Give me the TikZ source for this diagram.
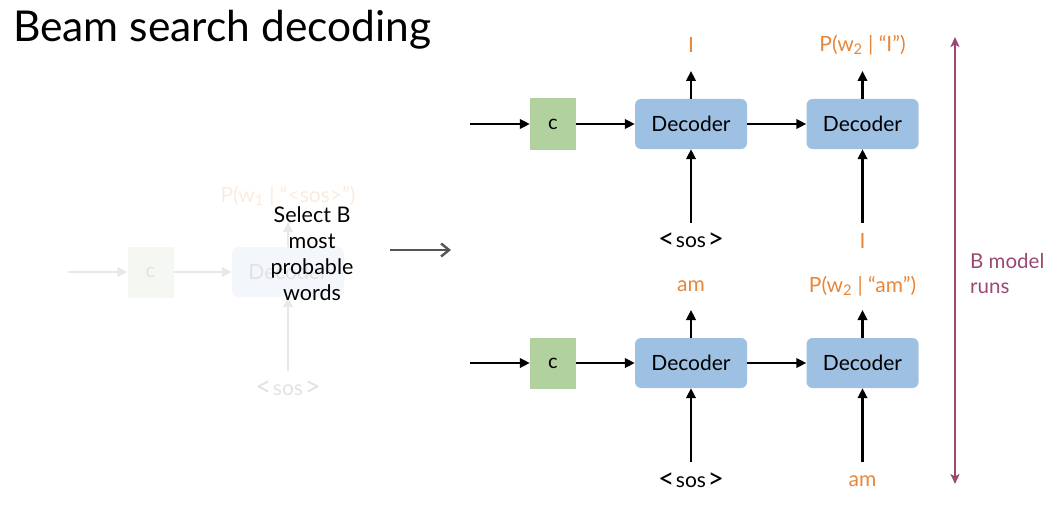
\documentclass[tikz,border=0pt]{standalone}
\usepackage{fontspec}
\setmainfont{Lato}
\usetikzlibrary{arrows.meta}
\definecolor{decblue}{HTML}{9DC0E3}
\definecolor{cgreen}{HTML}{B1D29E}
\definecolor{orng}{HTML}{E8863A}
\definecolor{mag}{HTML}{9A4872}
\definecolor{fadeline}{HTML}{E8E8E8}
\definecolor{fadetext}{HTML}{E2E2E2}
\definecolor{fadegreen}{HTML}{F5F8F2}
\definecolor{fadeblue}{HTML}{F3F7FB}
\definecolor{fadeorng}{HTML}{FCEBDD}
\definecolor{darkarr}{HTML}{555555}
\newcommand{\bigbr}[1]{\raisebox{-1.2pt}{\scalebox{1.35}{#1}}}
\newcommand{\sostext}{\bigbr{<}\kern1.5pt sos\kern1.5pt\bigbr{>}}
\begin{document}
\begin{tikzpicture}[x=1pt,y=-1pt,
  arr/.style={line width=2.3pt, -{Triangle[length=10pt,width=9.5pt]}},
  farr/.style={arr, draw=fadeline, color=fadeline},
  dec/.style={rounded corners=6pt, fill=decblue, minimum width=112pt, minimum height=50pt, inner sep=0pt, font=\fontsize{21}{25}\selectfont},
  cbox/.style={fill=cgreen, minimum width=46pt, minimum height=51pt, inner sep=0pt, font=\fontsize{20}{24}\selectfont},
  lbl/.style={font=\fontsize{21}{25}\selectfont, inner sep=0pt},
  olbl/.style={lbl, text=orng}]
\useasboundingbox (0,0) rectangle (1059,516);

% title
\node[anchor=base west, font=\fontsize{42.5}{50}\selectfont, inner sep=0pt] (title) at (13,42) {Beam search decoding};

% faded left part
\node[cbox, fill=fadegreen, text=fadetext] (fc) at (150.5,272) {c};
\node[dec, fill=fadeblue, text=fadetext] (fd) at (288,272) {Decoder};
\coordinate (fin) at (68,272);
\draw[farr] (fin) -- (fc);
\draw[farr] (fc) -- (fd);
\coordinate (fup) at (288,222);
\draw[farr] (fd) -- (fup);
\node[lbl, text=fadeorng] (fp) at (288,196) {P(w\textsubscript{1} | “<sos>”)};
\coordinate (fb) at (288,371);
\draw[farr] (fb) -- (fd);
\node[lbl, text=fadetext] (fs) at (288,389) {\sostext};

% select text
\node[lbl, align=center, font=\fontsize{21.5}{26}\selectfont] (sel) at (312,254) {Select B\\most\\probable\\words};
\coordinate (ga) at (390,250);
\coordinate (gb) at (451,250);
\draw[line width=2.6pt, draw=darkarr, -{Straight Barb[length=8pt,width=13pt,line width=2.4pt]}] (ga) -- (gb);

% top row
\node[cbox] (c1) at (553,124) {c};
\node[dec] (d1) at (691,124) {Decoder};
\node[dec] (d2) at (862.5,124) {Decoder};
\coordinate (in1) at (470,124);
\draw[arr] (in1) -- (c1);
\draw[arr] (c1) -- (d1);
\draw[arr] (d1) -- (d2);
\coordinate (u1) at (691,71);
\coordinate (u2) at (862.5,71);
\draw[arr] (d1) -- (u1);
\draw[arr] (d2) -- (u2);
\node[olbl] (o1) at (691,45) {I};
\node[olbl] (o2) at (862.5,45) {P(w\textsubscript{2} | “I”)};
\coordinate (b1) at (691,223);
\coordinate (b2) at (862.5,223);
\draw[arr] (b1) -- (d1);
\draw[arr] (b2) -- (d2);
\node[lbl] (s1) at (691,241) {\sostext};
\node[olbl] (i2) at (862.5,241) {I};

% bottom row
\node[cbox] (c3) at (553,363) {c};
\node[dec] (d3) at (691,363) {Decoder};
\node[dec] (d4) at (862.5,363) {Decoder};
\coordinate (in3) at (470,363);
\draw[arr] (in3) -- (c3);
\draw[arr] (c3) -- (d3);
\draw[arr] (d3) -- (d4);
\coordinate (u3) at (691,310);
\coordinate (u4) at (862.5,310);
\draw[arr] (d3) -- (u3);
\draw[arr] (d4) -- (u4);
\node[olbl] (o3) at (691,286) {am};
\node[olbl] (o4) at (862.5,286) {P(w\textsubscript{2} | “am”)};
\coordinate (b3) at (691,462);
\coordinate (b4) at (862.5,462);
\draw[arr] (b3) -- (d3);
\draw[arr] (b4) -- (d4);
\node[lbl] (s3) at (691,481) {\sostext};
\node[olbl] (a4) at (862.5,481) {am};

% B model runs
\coordinate (mt) at (955,37);
\coordinate (mb) at (955,484);
\draw[line width=1.8pt, draw=mag, {Stealth[length=10pt,width=9pt,inset=2.5pt]}-{Stealth[length=10pt,width=9pt,inset=2.5pt]}] (mt) -- (mb);
\node[lbl, text=mag, align=left, anchor=west, font=\fontsize{20.5}{25}\selectfont] (runs) at (970,274) {B model\\runs};
\end{tikzpicture}
\end{document}
